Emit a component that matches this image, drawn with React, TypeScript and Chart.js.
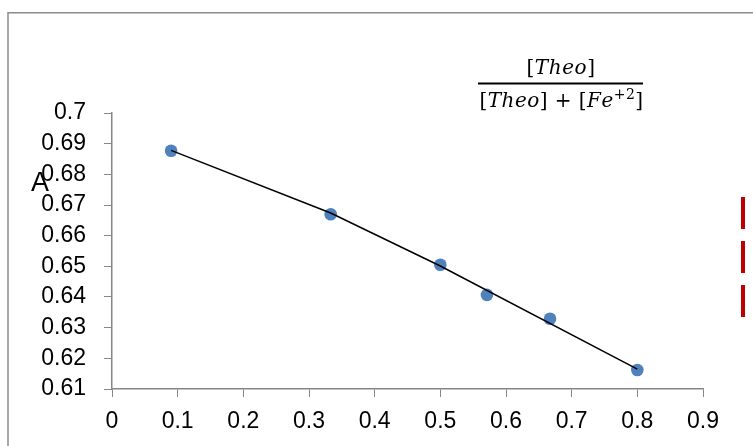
import React, { useEffect, useRef } from "react";
import { Chart, registerables } from "chart.js";

Chart.register(...registerables);

const xValues = [0.09, 0.333, 0.5, 0.571, 0.667, 0.8];
const aValues = [0.6877, 0.667, 0.6505, 0.6407, 0.6329, 0.6162];
const trendX = [0.09, 0.333, 0.5, 0.8];
const trendY = [0.6878, 0.6674, 0.6501, 0.6165];
const yAxisLabel = "A";
const xMin = 0, xMax = 0.9, xStep = 0.1;
const yMin = 0.61, yMax = 0.7, yStep = 0.01;

const TICK_FONT = { family: "'Liberation Sans', Arial, sans-serif", size: 23 };
const AXIS_COLOR = "#868686";

const decorPlugin = {
  id: "decor",
  afterDraw(chart: any) {
    const ctx = chart.ctx as CanvasRenderingContext2D;
    ctx.save();
    // outer frame (extends beyond the view on right and bottom)
    ctx.strokeStyle = "#8c8c8c";
    ctx.lineWidth = 1.5;
    ctx.beginPath();
    ctx.moveTo(8, 460);
    ctx.lineTo(8, 12.75);
    ctx.lineTo(770, 12.75);
    ctx.stroke();

    // axis label A
    ctx.fillStyle = "#000";
    ctx.font = "27px 'Liberation Sans', Arial, sans-serif";
    ctx.textBaseline = "alphabetic";
    ctx.textAlign = "left";
    ctx.fillText(yAxisLabel, 31, 191);

    // fraction title
    const fs = 20;
    const fam = "'DejaVu Serif', 'Liberation Serif', serif";
    const upright = `${fs}px ${fam}`;
    const italic = `italic ${fs}px ${fam}`;
    const sup = `${Math.round(fs * 0.7)}px ${fam}`;
    type Seg = { t: string; f: string; dy: number };
    const num: Seg[] = [
      { t: "[", f: upright, dy: 0 },
      { t: "Theo", f: italic, dy: 0 },
      { t: "]", f: upright, dy: 0 },
    ];
    const den: Seg[] = [
      { t: "[", f: upright, dy: 0 },
      { t: "Theo", f: italic, dy: 0 },
      { t: "] + [", f: upright, dy: 0 },
      { t: "Fe", f: italic, dy: 0 },
      { t: "+2", f: sup, dy: -8 },
      { t: "]", f: upright, dy: 0 },
    ];
    const cx = 561;
    const fitText = (segs: Seg[], baseline: number, target: number) => {
      let w = 0;
      segs.forEach((s) => {
        ctx.font = s.f;
        w += ctx.measureText(s.t).width;
      });
      const n = segs.reduce((a, s) => a + s.t.length, 0);
      const spacing = (target - w) / n;
      let x = cx - target / 2;
      segs.forEach((s) => {
        ctx.font = s.f;
        for (const ch of s.t) {
          ctx.fillText(ch, x, baseline + s.dy);
          x += ctx.measureText(ch).width + spacing;
        }
      });
    };
    fitText(num, 74, 69);
    fitText(den, 107, 163);
    ctx.fillRect(478, 82.5, 165, 2);

    // red dashes at right edge
    ctx.fillStyle = "#c00000";
    ctx.fillRect(741, 197, 4, 32);
    ctx.fillRect(741, 241, 4, 32);
    ctx.fillRect(741, 285, 4, 32);
    ctx.restore();
  },
};

export default function App() {
  const ref = useRef<HTMLCanvasElement>(null);
  useEffect(() => {
    if (!ref.current) return;
    const chart = new Chart(ref.current, {
      type: "scatter",
      data: {
        datasets: [
          {
            type: "line",
            data: trendX.map((x, i) => ({ x, y: trendY[i] })),
            borderColor: "#000",
            borderWidth: 1.5,
            pointRadius: 0,
            fill: false,
            tension: 0,
          } as any,
          {
            data: xValues.map((x, i) => ({ x, y: aValues[i] })),
            backgroundColor: "#4f81bd",
            borderColor: "#4f81bd",
            pointRadius: 6.3,
            pointBorderWidth: 0,
          },
        ],
      },
      options: {
        animation: false,
        responsive: false,
        devicePixelRatio: 1,
        layout: { padding: { top: 113, left: 0, right: 50, bottom: 0 } },
        plugins: { legend: { display: false }, tooltip: { enabled: false } },
        scales: {
          x: {
            type: "linear",
            min: xMin,
            max: xMax,
            afterFit: (s: any) => {
              s.height = 57;
            },
            ticks: {
              stepSize: xStep,
              color: "#000",
              font: TICK_FONT,
              padding: 11,
              callback: (v: any) => String(Number(Number(v).toFixed(2))),
            },
            grid: { drawOnChartArea: false, drawTicks: true, tickLength: 8, color: AXIS_COLOR },
            border: { color: AXIS_COLOR, width: 1.5 },
          },
          y: {
            type: "linear",
            min: yMin,
            max: yMax,
            afterFit: (s: any) => {
              s.width = 112;
            },
            ticks: {
              stepSize: yStep,
              color: "#000",
              font: TICK_FONT,
              padding: 18,
              callback: (v: any) => String(Number(Number(v).toFixed(2))),
            },
            grid: { drawOnChartArea: false, drawTicks: true, tickLength: 8, color: AXIS_COLOR },
            border: { color: AXIS_COLOR, width: 1.5 },
          },
        },
      },
      plugins: [decorPlugin],
    });
    return () => chart.destroy();
  }, []);
  return (
    <canvas
      ref={ref}
      width={753}
      height={446}
      style={{ position: "absolute", left: 0, top: 0, width: 753, height: 446, display: "block" }}
    />
  );
}
